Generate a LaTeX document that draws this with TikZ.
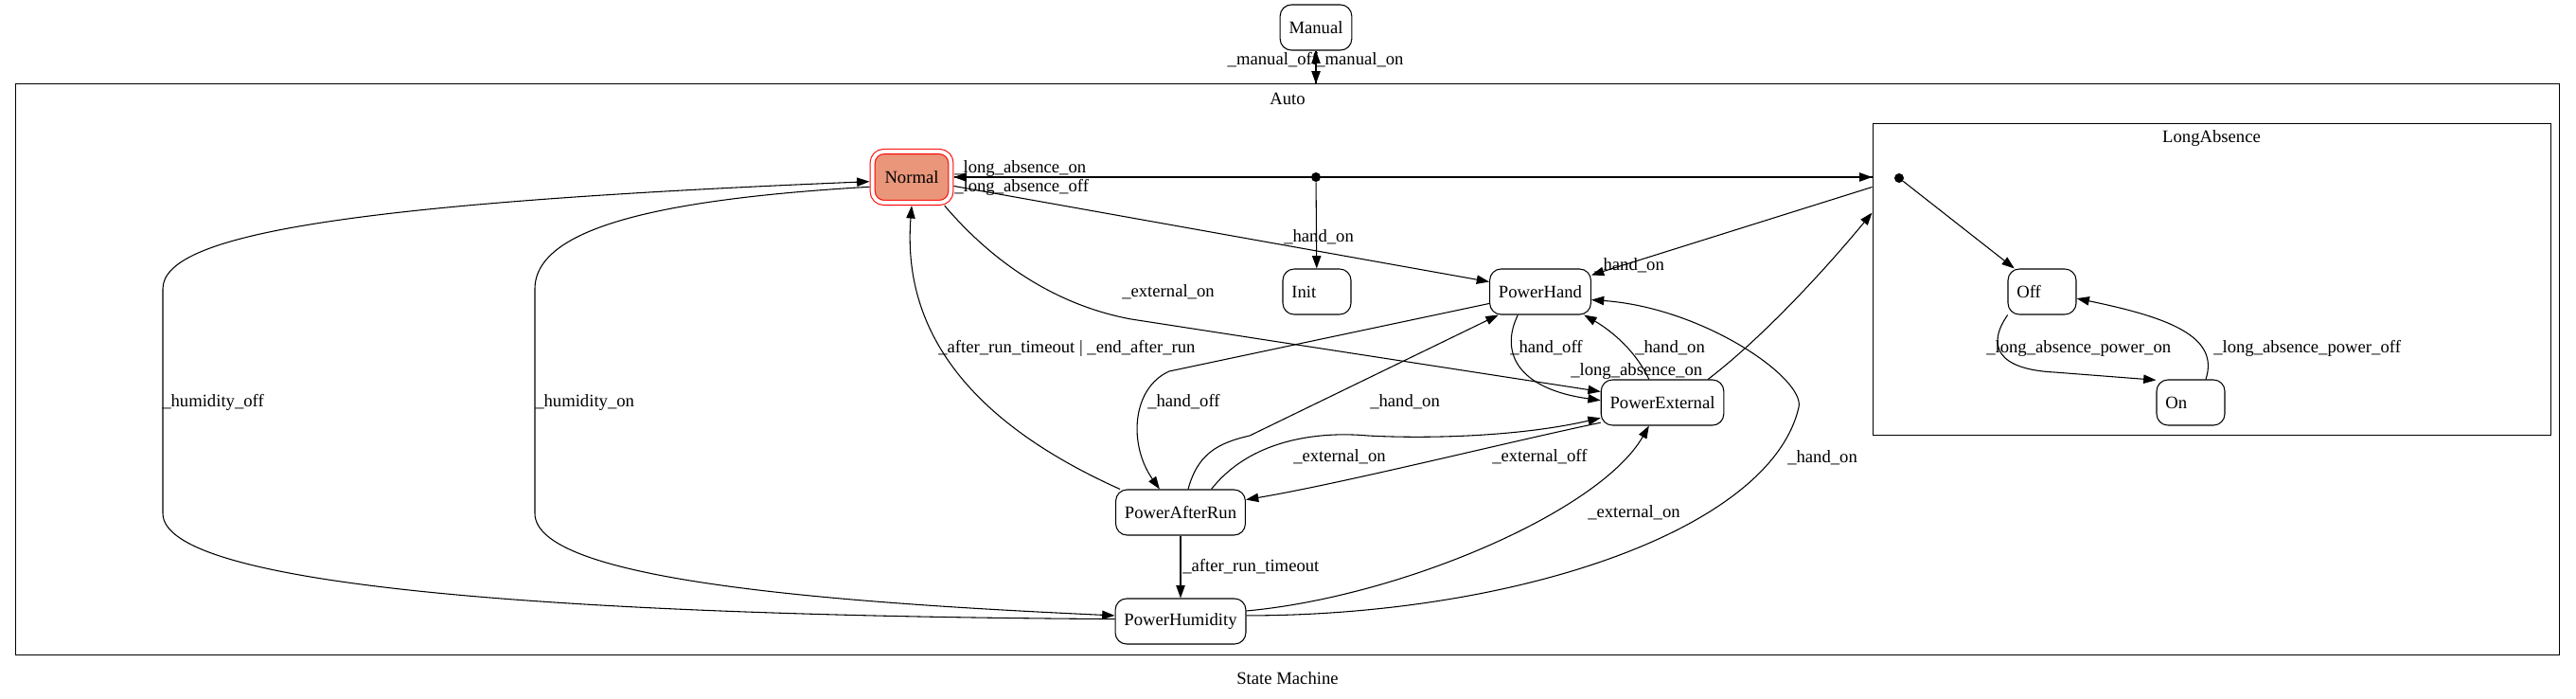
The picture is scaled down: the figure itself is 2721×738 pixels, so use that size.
\documentclass[tikz,border=0pt]{standalone}
\usepackage{fontspec}
\setmainfont{Liberation Serif}
\usepackage{xcolor}
\usetikzlibrary{arrows.meta,calc,positioning}
\definecolor{salmon}{HTML}{E9967A}

\tikzset{
  statenode/.style={draw, rounded corners=9pt, minimum height=36pt, inner xsep=7pt, line width=0.8pt},
  leafstate/.style={statenode, text width=40pt, align=left},
  startstate/.style={statenode, fill=salmon, draw=red, double=white, double distance=3pt, outer sep=2.4pt},
  cluster/.style={draw, line width=0.75pt, inner sep=0pt},
  pseudo/.style={circle, fill, inner sep=0pt, minimum size=7.5pt},
  lbl/.style={anchor=west, inner sep=0pt, text height=9.5pt, text depth=1.5pt},
  trans/.style={-{Triangle[length=10pt,width=7pt]}, line width=0.8pt},
}

\begin{document}
\begin{tikzpicture}[x=0.75pt, y=-0.75pt, font=\fontsize{14pt}{17pt}\selectfont]
        \useasboundingbox (0,0) rectangle (2721,738);

        % Cluster
        \node[cluster, minimum width=2015.25pt, minimum height=451.5pt] (Auto) at (1359.5,390) {};
        \node (autoname) at (1360,104) {Auto};
        \node[cluster, minimum width=537pt, minimum height=246pt] (LongAbsence) at (2336,295) {};
        \node (laname) at (2336,146) {LongAbsence};
        \node (title) at (1360,716) {State Machine};

        % Stati
        \node[statenode] (Manual) at (1390,29) {Manual};
        \node[startstate, minimum width=62pt, minimum height=40.5pt] (Normal) at (963,187) {Normal};
        \node[pseudo] (autoinit) at (1390,187) {};
        \node[leafstate] (Init) at (1391,308) {Init};
        \node[statenode] (PowerHand) at (1627,308) {PowerHand};
        \node[statenode] (PowerExternal) at (1756,425) {PowerExternal};
        \node[statenode] (PowerAfterRun) at (1247,541) {PowerAfterRun};
        \node[statenode] (PowerHumidity) at (1247,656) {PowerHumidity};
        \node[pseudo] (lainit) at (2006,188) {};
        \node[leafstate] (Off) at (2157,308) {Off};
        \node[leafstate] (On) at (2314,425) {On};

        % Punti sui bordi
        \coordinate (autotop) at (Manual |- Auto.north);
        \coordinate (lain) at (LongAbsence.west |- Normal);
        \coordinate (laout) at ($(LongAbsence.north west)+(0,67)$);
        \coordinate (laext) at ($(LongAbsence.north west)+(0,94)$);

        % Transizioni
        \draw[trans] (Manual) -- (autotop);
        \draw[trans] (autotop) -- (Manual);
        \draw[trans] (autoinit) -- (Init);
        \draw[trans] (Normal) -- (lain);
        \draw[trans] (lain) -- (Normal);
        \draw[trans] (Normal.-12) -- (PowerHand.169);
        \draw[trans] (Normal.-41) .. controls (1060,290) and (1130,325) .. (1195,337) -- (PowerExternal.170);
        \draw[trans] (PowerAfterRun.159) .. controls (990,430) and (955,320) .. (Normal.south);
        \draw[trans] (PowerHand.193) -- (1235,392) .. controls (1195,410) and (1192,470) .. (PowerAfterRun.132);
        \draw[trans] (PowerAfterRun.72) .. controls (1265,480) and (1285,468) .. (1320,460) -- (PowerHand.209);
        \draw[trans] (PowerHand.226) .. controls (1585,370) and (1600,410) .. (PowerExternal.178);
        \draw[trans] (PowerExternal.120) .. controls (1725,365) and (1695,345) .. (PowerHand.-28);
        \draw[trans] (PowerExternal.27) .. controls (1870,350) and (1940,270) .. (laext);
        \draw[trans] (laout) -- (PowerHand.18);
        \draw[trans] (PowerAfterRun.37) .. controls (1320,465) and (1390,455) .. (1445,460) .. controls (1500,463) and (1600,462) .. (PowerExternal.194);
        \draw[trans] (PowerExternal.198) .. controls (1600,465) and (1420,510) .. (PowerAfterRun.11);
        \draw[trans] (PowerAfterRun) -- (PowerHumidity);
        \draw[trans] (PowerHumidity.9) .. controls (1480,630) and (1690,540) .. (PowerExternal.240);
        \draw[trans] (PowerHumidity.5) .. controls (1600,650) and (1870,560) .. (1900,430) .. controls (1907,400) and (1800,325) .. (PowerHand.-9);
        \draw[trans] (PowerHumidity.178) .. controls (600,650) and (172,620) .. (172,542) -- (172,305) .. controls (172,250) and (350,215) .. (Normal.186);
        \draw[trans] (Normal.193) .. controls (700,210) and (565,240) .. (565,305) -- (565,542) .. controls (565,610) and (850,635) .. (PowerHumidity.175);
        \draw[trans] (lainit) -- (Off.140);
        \draw[trans] (Off.214) .. controls (2098,365) and (2110,390) .. (2170,393) -- (On.147);
        \draw[trans] (On.57) .. controls (2345,355) and (2290,335) .. (Off.-11);

        % Etichette
        \node[lbl, anchor=east] (lmanoff) at (1392,63) {\_manual\_off};
        \node[lbl] (lmanon) at (1390,63) {\_manual\_on};
        \node[lbl] (llaon) at (1008,177) {\_long\_absence\_on};
        \node[lbl] (llaoff) at (1008,197) {\_long\_absence\_off};
        \node[lbl] (lhandon1) at (1356,250) {\_hand\_on};
        \node[lbl] (lexton1) at (1185,308) {\_external\_on};
        \node[lbl] (lhandon2) at (1684,280) {\_hand\_on};
        \node[lbl] (lafter) at (991,367) {\_after\_run\_timeout \textbar{} \_end\_after\_run};
        \node[lbl] (lhandoff1) at (1212,424) {\_hand\_off};
        \node[lbl] (lhandon3) at (1447,424) {\_hand\_on};
        \node[lbl] (lhandoff2) at (1595,367) {\_hand\_off};
        \node[lbl] (lhandon4) at (1727,367) {\_hand\_on};
        \node[lbl] (llaon2) at (1659,391) {\_long\_absence\_on};
        \node[lbl] (lexton2) at (1366,482) {\_external\_on};
        \node[lbl] (lextoff) at (1576,482) {\_external\_off};
        \node[lbl] (ltimeout) at (1249,598) {\_after\_run\_timeout};
        \node[lbl] (lexton3) at (1677,541) {\_external\_on};
        \node[lbl] (lhandon5) at (1888,483) {\_hand\_on};
        \node[lbl] (lhumoff) at (171,424) {\_humidity\_off};
        \node[lbl] (lhumon) at (565,424) {\_humidity\_on};
        \node[lbl] (lpoweron) at (2098,367) {\_long\_absence\_power\_on};
        \node[lbl] (lpoweroff) at (2338,367) {\_long\_absence\_power\_off};
\end{tikzpicture}
\end{document}
